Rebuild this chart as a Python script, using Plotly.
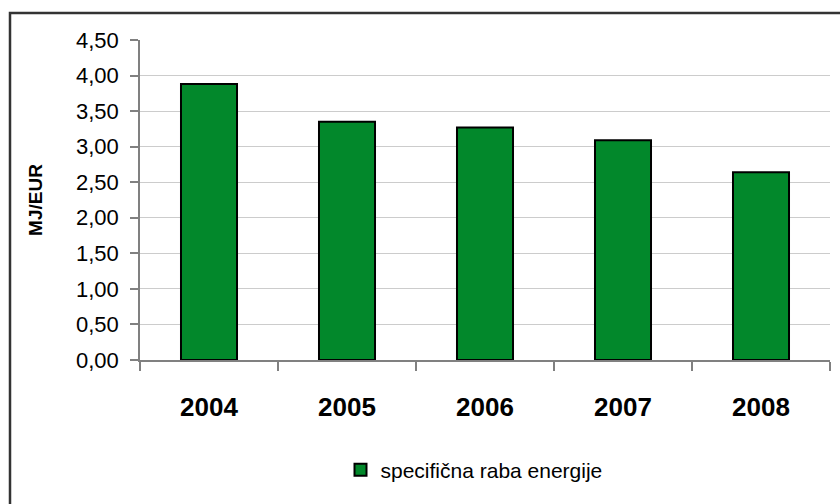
import plotly.graph_objects as go

# Specific energy use per year (MJ per EUR)
years = ["2004", "2005", "2006", "2007", "2008"]
values = [3.88, 3.35, 3.27, 3.09, 2.64]
y_ticks = [0, 0.5, 1.0, 1.5, 2.0, 2.5, 3.0, 3.5, 4.0, 4.5]
y_tick_labels = ["0,00", "0,50", "1,00", "1,50", "2,00", "2,50", "3,00", "3,50", "4,00", "4,50"]
series_name = "specifična raba energije"
y_title = "MJ/EUR"

FONT = "Liberation Sans, Arial, sans-serif"

fig = go.Figure(
    go.Bar(
        x=years,
        y=values,
        name=series_name,
        marker=dict(color="#02882B", line=dict(color="#000000", width=2)),
        showlegend=True,
    )
)

W, H = 840, 504
ml, mr, mt, mb = 140, 10, 40, 144
pw, ph = W - ml - mr, H - mt - mb

def px_x(px):
    return (px - ml) / pw

def px_y(py):
    return (H - mb - py) / ph

fig.update_layout(
    width=W,
    height=H,
    margin=dict(l=ml, r=mr, t=mt, b=mb, autoexpand=False),
    paper_bgcolor="white",
    plot_bgcolor="white",
    bargap=0.594,
    font=dict(family=FONT, color="#000000"),
    xaxis=dict(
        type="category",
        tickson="boundaries",
        ticks="outside",
        ticklen=9,
        tickwidth=1.5,
        tickcolor="#808080",
        showline=True,
        linecolor="#808080",
        linewidth=1.5,
        showgrid=False,
        tickfont=dict(family=FONT, size=26, color="#000000", weight="bold"),
        ticklabelstandoff=23,
    ),
    yaxis=dict(
        range=[0, 4.5],
        tickvals=y_ticks,
        ticktext=y_tick_labels,
        ticks="outside",
        ticklen=8,
        tickwidth=1.5,
        tickcolor="#808080",
        showline=True,
        linecolor="#808080",
        linewidth=1.5,
        showgrid=True,
        gridcolor="#cccccc",
        gridwidth=1,
        zeroline=False,
        tickfont=dict(family=FONT, size=22, color="#000000"),
        ticklabelstandoff=7,
        title=dict(
            text=y_title,
            font=dict(family=FONT, size=19, color="#000000", weight="bold"),
            standoff=28,
        ),
    ),
    legend=dict(
        orientation="h",
        x=px_x(474),
        xanchor="center",
        y=px_y(470),
        yanchor="middle",
        font=dict(family=FONT, size=21, color="#000000"),
        bgcolor="rgba(0,0,0,0)",
    ),
    shapes=[
        dict(
            type="rect",
            xref="paper",
            yref="paper",
            x0=px_x(10),
            x1=px_x(848),
            y0=px_y(512),
            y1=px_y(13),
            line=dict(color="#333333", width=2.5),
            fillcolor="rgba(0,0,0,0)",
            layer="below",
        )
    ],
)

fig.write_html("out.html")
